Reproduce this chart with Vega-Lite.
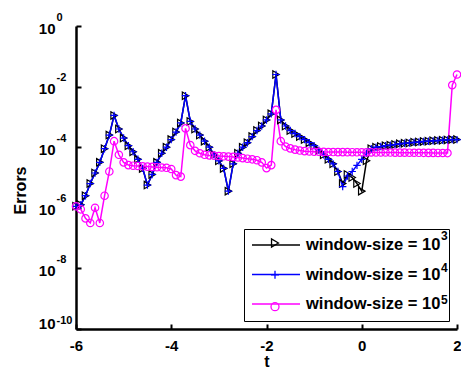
{
  "$schema": "https://vega.github.io/schema/vega-lite/v6.json",
  "width": 381,
  "height": 303,
  "autosize": {"type": "none"},
  "padding": {"left": 76, "top": 26, "right": 4, "bottom": 40},
  "background": "white",
  "config": {
    "view": {"stroke": null},
    "font": "Liberation Sans",
    "axis": {"labelFont": "Liberation Sans", "titleFont": "Liberation Sans", "labelColor": "black", "titleColor": "black", "domainColor": "black", "tickColor": "black", "grid": false}
  },
  "data": {"values": [
    {"t":-6,"s":"3","e":1.12e-6},{"t":-5.9,"s":"3","e":1.26e-6},{"t":-5.8,"s":"3","e":2.51e-6},{"t":-5.7,"s":"3","e":6.31e-6},{"t":-5.6,"s":"3","e":1.41e-5},{"t":-5.5,"s":"3","e":3.16e-5},{"t":-5.4,"s":"3","e":8.91e-5},{"t":-5.3,"s":"3","e":2.51e-4},{"t":-5.2,"s":"3","e":1.12e-3},{"t":-5.1,"s":"3","e":3.98e-4},
    {"t":-5,"s":"3","e":2.0e-4},{"t":-4.9,"s":"3","e":1.12e-4},{"t":-4.8,"s":"3","e":7.08e-5},{"t":-4.7,"s":"3","e":3.98e-5},{"t":-4.6,"s":"3","e":2.0e-5},{"t":-4.5,"s":"3","e":5.62e-6},{"t":-4.4,"s":"3","e":1.26e-5},{"t":-4.3,"s":"3","e":3.16e-5},{"t":-4.2,"s":"3","e":6.31e-5},{"t":-4.1,"s":"3","e":1.0e-4},
    {"t":-4,"s":"3","e":1.78e-4},{"t":-3.9,"s":"3","e":3.16e-4},{"t":-3.8,"s":"3","e":6.31e-4},{"t":-3.7,"s":"3","e":5.01e-3},{"t":-3.6,"s":"3","e":7.08e-4},{"t":-3.5,"s":"3","e":3.98e-4},{"t":-3.4,"s":"3","e":2.51e-4},{"t":-3.3,"s":"3","e":1.58e-4},{"t":-3.2,"s":"3","e":1.0e-4},{"t":-3.1,"s":"3","e":5.62e-5},
    {"t":-3,"s":"3","e":3.55e-5},{"t":-2.9,"s":"3","e":2.0e-5},{"t":-2.8,"s":"3","e":3.55e-6},{"t":-2.7,"s":"3","e":2.82e-5},{"t":-2.6,"s":"3","e":6.31e-5},{"t":-2.5,"s":"3","e":1.0e-4},{"t":-2.4,"s":"3","e":1.41e-4},{"t":-2.3,"s":"3","e":2.24e-4},{"t":-2.2,"s":"3","e":3.55e-4},{"t":-2.1,"s":"3","e":5.01e-4},
    {"t":-2,"s":"3","e":7.94e-4},{"t":-1.9,"s":"3","e":1.26e-3},{"t":-1.8,"s":"3","e":2.51e-2},{"t":-1.7,"s":"3","e":7.94e-4},{"t":-1.6,"s":"3","e":5.01e-4},{"t":-1.5,"s":"3","e":3.55e-4},{"t":-1.4,"s":"3","e":2.82e-4},{"t":-1.3,"s":"3","e":2.24e-4},{"t":-1.2,"s":"3","e":1.78e-4},{"t":-1.1,"s":"3","e":1.41e-4},
    {"t":-1,"s":"3","e":1.12e-4},{"t":-0.9,"s":"3","e":7.94e-5},{"t":-0.8,"s":"3","e":5.62e-5},{"t":-0.7,"s":"3","e":3.98e-5},{"t":-0.6,"s":"3","e":2.82e-5},{"t":-0.5,"s":"3","e":1.58e-5},{"t":-0.4,"s":"3","e":6.31e-6},{"t":-0.3,"s":"3","e":1.26e-5},{"t":-0.2,"s":"3","e":1.0e-5},{"t":-0.1,"s":"3","e":6.31e-6},
    {"t":0,"s":"3","e":3.55e-6},{"t":0.1,"s":"3","e":3.55e-5},{"t":0.2,"s":"3","e":8.91e-5},{"t":0.3,"s":"3","e":1.0e-4},{"t":0.4,"s":"3","e":1.05e-4},{"t":0.5,"s":"3","e":1.12e-4},{"t":0.6,"s":"3","e":1.17e-4},{"t":0.7,"s":"3","e":1.23e-4},{"t":0.8,"s":"3","e":1.29e-4},{"t":0.9,"s":"3","e":1.35e-4},
    {"t":1,"s":"3","e":1.38e-4},{"t":1.1,"s":"3","e":1.45e-4},{"t":1.2,"s":"3","e":1.48e-4},{"t":1.3,"s":"3","e":1.55e-4},{"t":1.4,"s":"3","e":1.58e-4},{"t":1.5,"s":"3","e":1.62e-4},{"t":1.6,"s":"3","e":1.66e-4},{"t":1.7,"s":"3","e":1.7e-4},{"t":1.8,"s":"3","e":1.74e-4},{"t":1.9,"s":"3","e":1.78e-4},{"t":2,"s":"3","e":1.78e-4},

    {"t":-6,"s":"4","e":1.12e-6},{"t":-5.9,"s":"4","e":1.26e-6},{"t":-5.8,"s":"4","e":2.51e-6},{"t":-5.7,"s":"4","e":6.31e-6},{"t":-5.6,"s":"4","e":1.41e-5},{"t":-5.5,"s":"4","e":3.16e-5},{"t":-5.4,"s":"4","e":8.91e-5},{"t":-5.3,"s":"4","e":2.51e-4},{"t":-5.2,"s":"4","e":1.12e-3},{"t":-5.1,"s":"4","e":3.98e-4},
    {"t":-5,"s":"4","e":2.0e-4},{"t":-4.9,"s":"4","e":1.12e-4},{"t":-4.8,"s":"4","e":7.08e-5},{"t":-4.7,"s":"4","e":3.98e-5},{"t":-4.6,"s":"4","e":2.0e-5},{"t":-4.5,"s":"4","e":5.62e-6},{"t":-4.4,"s":"4","e":1.26e-5},{"t":-4.3,"s":"4","e":3.16e-5},{"t":-4.2,"s":"4","e":6.31e-5},{"t":-4.1,"s":"4","e":1.0e-4},
    {"t":-4,"s":"4","e":1.78e-4},{"t":-3.9,"s":"4","e":3.16e-4},{"t":-3.8,"s":"4","e":6.31e-4},{"t":-3.7,"s":"4","e":5.01e-3},{"t":-3.6,"s":"4","e":7.08e-4},{"t":-3.5,"s":"4","e":3.98e-4},{"t":-3.4,"s":"4","e":2.51e-4},{"t":-3.3,"s":"4","e":1.58e-4},{"t":-3.2,"s":"4","e":1.0e-4},{"t":-3.1,"s":"4","e":5.62e-5},
    {"t":-3,"s":"4","e":3.55e-5},{"t":-2.9,"s":"4","e":2.0e-5},{"t":-2.8,"s":"4","e":3.55e-6},{"t":-2.7,"s":"4","e":2.82e-5},{"t":-2.6,"s":"4","e":6.31e-5},{"t":-2.5,"s":"4","e":1.0e-4},{"t":-2.4,"s":"4","e":1.41e-4},{"t":-2.3,"s":"4","e":2.24e-4},{"t":-2.2,"s":"4","e":3.55e-4},{"t":-2.1,"s":"4","e":5.01e-4},
    {"t":-2,"s":"4","e":7.94e-4},{"t":-1.9,"s":"4","e":1.26e-3},{"t":-1.8,"s":"4","e":2.51e-2},{"t":-1.7,"s":"4","e":7.94e-4},{"t":-1.6,"s":"4","e":5.01e-4},{"t":-1.5,"s":"4","e":3.55e-4},{"t":-1.4,"s":"4","e":2.82e-4},{"t":-1.3,"s":"4","e":2.24e-4},{"t":-1.2,"s":"4","e":1.78e-4},{"t":-1.1,"s":"4","e":1.41e-4},
    {"t":-1,"s":"4","e":1.12e-4},{"t":-0.9,"s":"4","e":7.94e-5},{"t":-0.8,"s":"4","e":5.62e-5},{"t":-0.7,"s":"4","e":3.98e-5},{"t":-0.6,"s":"4","e":2.82e-5},{"t":-0.5,"s":"4","e":1.58e-5},{"t":-0.4,"s":"4","e":5.01e-6},{"t":-0.3,"s":"4","e":1.12e-5},{"t":-0.2,"s":"4","e":1.58e-5},{"t":-0.1,"s":"4","e":2.51e-5},
    {"t":0,"s":"4","e":3.98e-5},{"t":0.1,"s":"4","e":6.31e-5},{"t":0.2,"s":"4","e":8.91e-5},{"t":0.3,"s":"4","e":1.0e-4},{"t":0.4,"s":"4","e":1.05e-4},{"t":0.5,"s":"4","e":1.12e-4},{"t":0.6,"s":"4","e":1.17e-4},{"t":0.7,"s":"4","e":1.23e-4},{"t":0.8,"s":"4","e":1.29e-4},{"t":0.9,"s":"4","e":1.35e-4},
    {"t":1,"s":"4","e":1.38e-4},{"t":1.1,"s":"4","e":1.45e-4},{"t":1.2,"s":"4","e":1.48e-4},{"t":1.3,"s":"4","e":1.55e-4},{"t":1.4,"s":"4","e":1.58e-4},{"t":1.5,"s":"4","e":1.62e-4},{"t":1.6,"s":"4","e":1.66e-4},{"t":1.7,"s":"4","e":1.7e-4},{"t":1.8,"s":"4","e":1.74e-4},{"t":1.9,"s":"4","e":1.78e-4},{"t":2,"s":"4","e":1.78e-4},

    {"t":-6,"s":"5","e":1.12e-6},{"t":-5.9,"s":"5","e":8.91e-7},{"t":-5.8,"s":"5","e":4.47e-7},{"t":-5.7,"s":"5","e":3.16e-7},{"t":-5.6,"s":"5","e":1.0e-6},{"t":-5.5,"s":"5","e":3.16e-7},{"t":-5.4,"s":"5","e":2.51e-6},{"t":-5.3,"s":"5","e":1.58e-5},{"t":-5.2,"s":"5","e":1.58e-4},{"t":-5.1,"s":"5","e":5.62e-5},
    {"t":-5,"s":"5","e":3.16e-5},{"t":-4.9,"s":"5","e":2.57e-5},{"t":-4.8,"s":"5","e":2.45e-5},{"t":-4.7,"s":"5","e":2.4e-5},{"t":-4.6,"s":"5","e":2.34e-5},{"t":-4.5,"s":"5","e":2.29e-5},{"t":-4.4,"s":"5","e":2.24e-5},{"t":-4.3,"s":"5","e":2.19e-5},{"t":-4.2,"s":"5","e":2.14e-5},{"t":-4.1,"s":"5","e":2.09e-5},
    {"t":-4,"s":"5","e":1.91e-5},{"t":-3.9,"s":"5","e":1.2e-5},{"t":-3.8,"s":"5","e":1.07e-5},{"t":-3.7,"s":"5","e":4.17e-4},{"t":-3.6,"s":"5","e":1.17e-4},{"t":-3.5,"s":"5","e":7.59e-5},{"t":-3.4,"s":"5","e":6.31e-5},{"t":-3.3,"s":"5","e":5.62e-5},{"t":-3.2,"s":"5","e":5.37e-5},{"t":-3.1,"s":"5","e":5.25e-5},
    {"t":-3,"s":"5","e":5.13e-5},{"t":-2.9,"s":"5","e":5.01e-5},{"t":-2.8,"s":"5","e":4.9e-5},{"t":-2.7,"s":"5","e":4.79e-5},{"t":-2.6,"s":"5","e":4.57e-5},{"t":-2.5,"s":"5","e":4.37e-5},{"t":-2.4,"s":"5","e":4.17e-5},{"t":-2.3,"s":"5","e":3.98e-5},{"t":-2.2,"s":"5","e":3.72e-5},{"t":-2.1,"s":"5","e":3.16e-5},
    {"t":-2,"s":"5","e":2.04e-5},{"t":-1.9,"s":"5","e":2.57e-5},{"t":-1.8,"s":"5","e":1.7e-3},{"t":-1.7,"s":"5","e":1.58e-4},{"t":-1.6,"s":"5","e":1.05e-4},{"t":-1.5,"s":"5","e":9.12e-5},{"t":-1.4,"s":"5","e":8.32e-5},{"t":-1.3,"s":"5","e":7.76e-5},{"t":-1.2,"s":"5","e":7.41e-5},{"t":-1.1,"s":"5","e":7.24e-5},
    {"t":-1,"s":"5","e":7.08e-5},{"t":-0.9,"s":"5","e":7.08e-5},{"t":-0.8,"s":"5","e":7.0e-5},{"t":-0.7,"s":"5","e":6.95e-5},{"t":-0.6,"s":"5","e":6.92e-5},{"t":-0.5,"s":"5","e":6.9e-5},{"t":-0.4,"s":"5","e":6.88e-5},{"t":-0.3,"s":"5","e":6.85e-5},{"t":-0.2,"s":"5","e":6.83e-5},{"t":-0.1,"s":"5","e":6.8e-5},
    {"t":0,"s":"5","e":6.78e-5},{"t":0.1,"s":"5","e":6.76e-5},{"t":0.2,"s":"5","e":6.74e-5},{"t":0.3,"s":"5","e":6.72e-5},{"t":0.4,"s":"5","e":6.7e-5},{"t":0.5,"s":"5","e":6.68e-5},{"t":0.6,"s":"5","e":6.66e-5},{"t":0.7,"s":"5","e":6.64e-5},{"t":0.8,"s":"5","e":6.62e-5},{"t":0.9,"s":"5","e":6.6e-5},
    {"t":1,"s":"5","e":6.58e-5},{"t":1.1,"s":"5","e":6.56e-5},{"t":1.2,"s":"5","e":6.54e-5},{"t":1.3,"s":"5","e":6.52e-5},{"t":1.4,"s":"5","e":6.5e-5},{"t":1.5,"s":"5","e":6.48e-5},{"t":1.6,"s":"5","e":6.46e-5},{"t":1.7,"s":"5","e":6.44e-5},{"t":1.8,"s":"5","e":6.4e-5},{"t":1.9,"s":"5","e":1.12e-2},{"t":2,"s":"5","e":2.51e-2}
  ]},
  "encoding": {
    "x": {
      "field": "t", "type": "quantitative",
      "scale": {"domain": [-6, 2], "nice": false, "zero": false},
      "axis": {
        "values": [-6, -4, -2, 0, 2], "labelExpr": "'' + datum.value", "labelFlush": false,
        "labelFontSize": 15, "labelFontWeight": "bold", "labelPadding": 14,
        "tickSize": -5, "tickWidth": 2, "domainWidth": 2.5,
        "title": "t", "titleFontSize": 16, "titleFontWeight": "bold", "titlePadding": 0
      }
    }
  },
  "layer": [
    {
      "mark": {"type": "line", "strokeWidth": 1.5},
      "encoding": {
        "y": {
          "field": "e", "type": "quantitative",
          "scale": {"type": "log", "domain": [1e-10, 1], "nice": false},
          "axis": {
            "orient": "left", "values": [1e-10, 1e-8, 1e-6, 1e-4, 1e-2, 1],
            "labelExpr": "'10'", "labelFontSize": 15, "labelFontWeight": "bold",
            "labelBaseline": {"condition": {"test": "datum.value < 1e-9", "value": "bottom"}, "value": "middle"},
            "labelOffset": 2, "labelPadding": 26, "labelOverlap": false,
            "tickSize": -5, "tickWidth": 2, "domainWidth": 2.5,
            "title": "Errors", "titleFontSize": 16, "titleFontWeight": "bold",
            "titleX": -56, "titleY": 164, "titleAlign": "center", "titleBaseline": "middle", "titleAngle": -90
          }
        },
        "color": {
          "field": "s", "type": "nominal",
          "scale": {"range": ["#000000", "#0000ff", "#ff00ff"]},
          "legend": {
            "orient": "none", "legendX": 168, "legendY": 203, "title": null,
            "labelExpr": "'window-size = 10 '",
            "labelFontSize": 16.5, "labelFontWeight": "bold", "labelColor": "black", "labelFont": "Liberation Sans",
            "symbolType": "stroke", "symbolSize": 2704, "symbolStrokeWidth": 1.5, "symbolOffset": -5, "labelOffset": 5,
            "clipHeight": 16, "rowPadding": 12.5, "padding": 8, "strokeColor": "black", "fillColor": "white"
          }
        }
      }
    },
    {
      "mark": {"type": "point", "filled": false, "strokeWidth": 1.2, "size": 55, "opacity": 1},
      "encoding": {
        "y": {
          "field": "e", "type": "quantitative",
          "scale": {"type": "log", "domain": [1e-10, 1], "nice": false},
          "axis": {
            "orient": "left", "values": [1e-10, 1e-8, 1e-6, 1e-4, 1e-2, 1],
            "labelExpr": "datum.value < 1e-9 ? ['' + round(log(datum.value) / LN10), ' '] : '' + round(log(datum.value) / LN10)",
            "labelFontSize": 11, "labelFontWeight": "bold", "labelAlign": "left", "labelBaseline": "bottom",
            "labelOffset": -4, "labelPadding": 20, "labelLineHeight": 7, "labelOverlap": false,
            "ticks": false, "domain": false, "title": null
          }
        },
        "stroke": {
          "field": "s", "type": "nominal",
          "scale": {"domain": ["3", "4", "5"], "range": ["#000000", "#0000ff", "#ff00ff"]},
          "legend": {
            "orient": "none", "legendX": 168, "legendY": 203, "title": null,
            "labelFontSize": 12, "labelFontWeight": "bold", "labelColor": "black", "labelFont": "Liberation Sans",
            "labelBaseline": "bottom",
            "symbolSize": 64, "symbolStrokeWidth": 1.3, "symbolOffset": 17, "labelOffset": 160,
            "rowPadding": 11.85, "padding": 8
          }
        },
        "shape": {
          "field": "s", "type": "nominal",
          "scale": {"domain": ["3", "4", "5"], "range": ["triangle-right", "M-1,0H1M0,-1V1", "circle"]},
          "legend": {
            "orient": "none", "legendX": 168, "legendY": 203, "title": null,
            "labelFontSize": 12, "labelFontWeight": "bold", "labelColor": "black", "labelFont": "Liberation Sans",
            "labelBaseline": "bottom",
            "symbolSize": 64, "symbolStrokeWidth": 1.3, "symbolOffset": 17, "labelOffset": 160,
            "rowPadding": 11.85, "padding": 8
          }
        }
      }
    }
  ],
  "resolve": {"axis": {"y": "independent"}}
}
